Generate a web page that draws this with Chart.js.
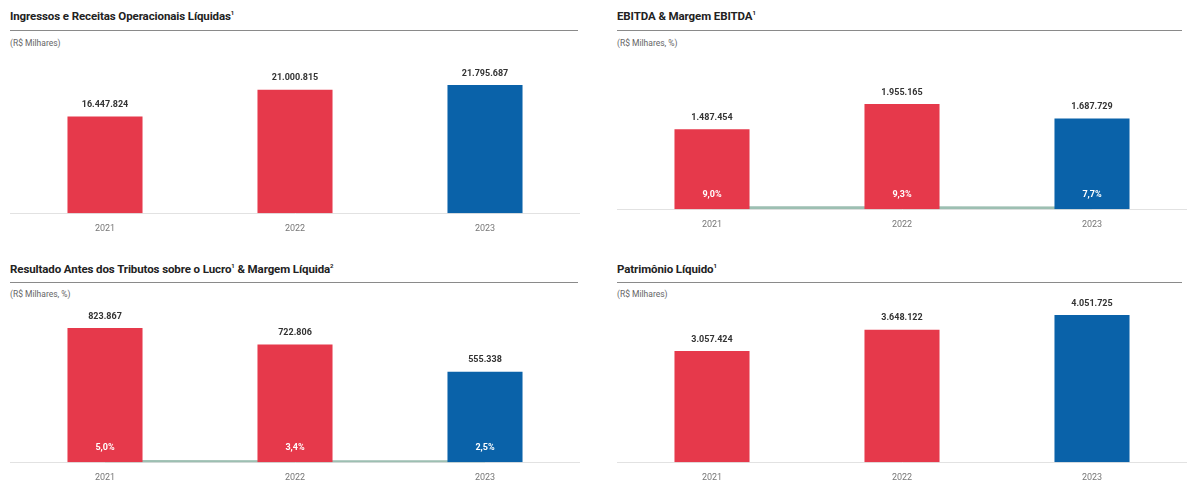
<!DOCTYPE html>
<html>
<head>
<meta charset="utf-8">
<script src="https://cdn.jsdelivr.net/npm/chart.js@4"></script>
<style>
  html,body{margin:0;padding:0;background:#fff;width:1194px;height:483px;overflow:hidden;font-family:Roboto,"Noto Sans",sans-serif;}
  .title{position:absolute;font-weight:700;font-size:11.5px;color:#222;white-space:nowrap;letter-spacing:-0.1px;}
  .rule{position:absolute;height:1px;background:#8a8a8a;}
  .sub{position:absolute;font-size:8.5px;color:#666;white-space:nowrap;}
  canvas{position:absolute;}
</style>
</head>
<body>
<div class="title" style="left:10px;top:9px;">Ingressos e Receitas Operacionais Líquidas<sup style="font-size:6px">1</sup></div>
<div class="rule" style="left:10px;top:30px;width:568px;"></div>
<div class="sub" style="left:10px;top:38px;">(R$ Milhares)</div>

<div class="title" style="left:617px;top:9px;">EBITDA &amp; Margem EBITDA<sup style="font-size:6px">1</sup></div>
<div class="rule" style="left:617px;top:30px;width:565px;"></div>
<div class="sub" style="left:617px;top:38px;">(R$ Milhares, %)</div>

<div class="title" style="left:10px;top:262px;">Resultado Antes dos Tributos sobre o Lucro<sup style="font-size:6px">1</sup> &amp; Margem Líquida<sup style="font-size:6px">2</sup></div>
<div class="rule" style="left:10px;top:282px;width:568px;"></div>
<div class="sub" style="left:10px;top:289px;">(R$ Milhares, %)</div>

<div class="title" style="left:617px;top:262px;">Patrimônio Líquido<sup style="font-size:6px">1</sup></div>
<div class="rule" style="left:617px;top:282px;width:565px;"></div>
<div class="sub" style="left:617px;top:289px;">(R$ Milhares)</div>

<canvas id="c1" width="570" height="204" style="left:10px;top:40px;"></canvas>
<canvas id="c2" width="570" height="200" style="left:617px;top:40px;"></canvas>
<canvas id="c3" width="570" height="208" style="left:10px;top:285px;"></canvas>
<canvas id="c4" width="570" height="208" style="left:617px;top:285px;"></canvas>

<script>
const years = ['2021', '2022', '2023'];
const receitas = [16447824, 21000815, 21795687];
const ebitda = [1487454, 1955165, 1687729];
const margemEbitda = [9.0, 9.3, 7.7];
const resultado = [823867, 722806, 555338];
const margemLiquida = [5.0, 3.4, 2.5];
const patrimonio = [3057424, 3648122, 4051725];

const RED = '#e6394b';
const BLUE = '#0a62a9';
const barColors = [RED, RED, BLUE];

function fmtInt(n){
  return String(Math.round(n)).replace(/\B(?=(\d{3})+(?!\d))/g, '.');
}
function fmtPct(n){
  return n.toFixed(1).replace('.', ',') + '%';
}

const labelPlugin = {
  id: 'labels',
  afterDatasetsDraw(chart){
    const ctx = chart.ctx;
    chart.data.datasets.forEach((ds, di) => {
      if (ds.type === 'line') return;
      const meta = chart.getDatasetMeta(di);
      meta.data.forEach((bar, i) => {
        ctx.save();
        ctx.font = 'bold 9px Roboto, "Noto Sans", sans-serif';
        ctx.fillStyle = '#333';
        ctx.textAlign = 'center';
        ctx.textBaseline = 'bottom';
        ctx.fillText(fmtInt(ds.data[i]), bar.x, bar.y - 7);
        if (ds.margins){
          ctx.fillStyle = '#fff';
          ctx.textBaseline = 'middle';
          ctx.fillText(fmtPct(ds.margins[i]), bar.x, bar.base - 14);
        }
        ctx.restore();
      });
    });
  }
};

function makeChart(id, values, yMax, margins){
  const datasets = [{
    type: 'bar',
    data: values,
    backgroundColor: barColors,
    borderWidth: 0,
    barPercentage: 0.395,
    categoryPercentage: 1,
    order: 1,
    margins: margins || null,
    yAxisID: 'y'
  }];
  if (margins){
    datasets.push({
      type: 'line',
      data: margins,
      borderColor: '#9dbfb2',
      borderWidth: 3,
      pointRadius: 0,
      fill: false,
      order: 2,
      yAxisID: 'y2'
    });
  }
  return new Chart(document.getElementById(id), {
    type: 'bar',
    data: { labels: years, datasets },
    options: {
      responsive: false,
      animation: false,
      layout: { padding: { top: 20, left: 0, right: 0, bottom: 0 } },
      plugins: { legend: { display: false }, tooltip: { enabled: false } },
      scales: {
        x: {
          offset: true,
          grid: { display: false, drawTicks: false },
          border: { display: true, color: '#e2e2e2', width: 1 },
          ticks: { padding: 10, color: '#777', font: { size: 9, family: 'Roboto, "Noto Sans", sans-serif' } }
        },
        y: { display: false, min: 0, max: yMax },
        y2: { display: false, min: 0, max: 1000 }
      }
    },
    plugins: [labelPlugin]
  });
}

makeChart('c1', receitas, 26050000);
makeChart('c2', ebitda, 2774000, margemEbitda);
makeChart('c3', resultado, 965000, margemLiquida);
makeChart('c4', patrimonio, 4327000);
</script>
</body>
</html>
